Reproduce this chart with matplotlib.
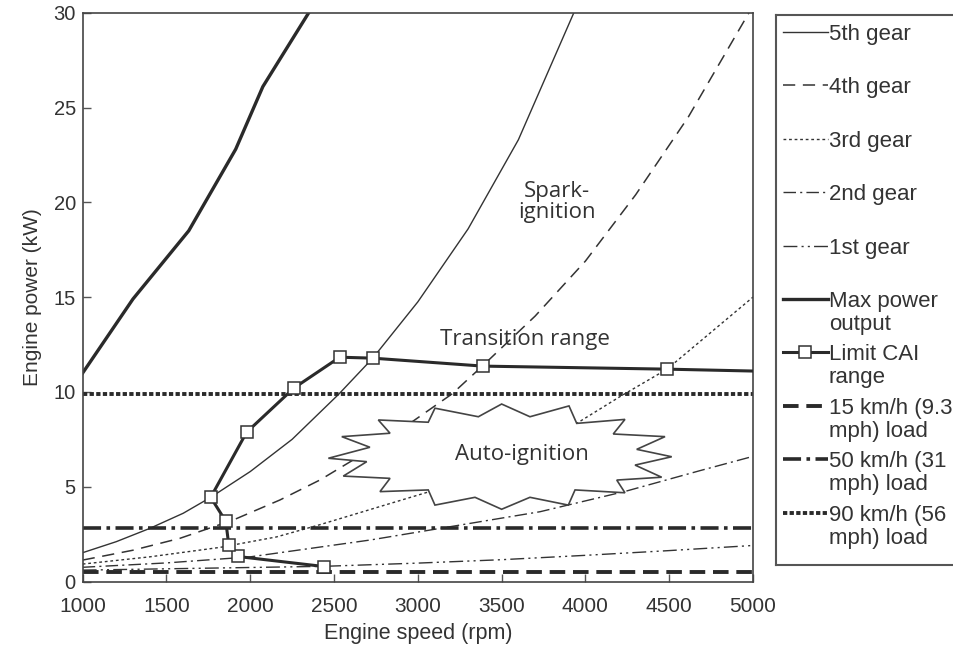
import matplotlib
matplotlib.use("Agg")
import matplotlib.pyplot as plt

# Gear road-load curves (engine speed rpm -> power kW)
rpm_5th = [1000, 1200, 1400, 1600, 1764, 2000, 2250, 2528, 2731, 3000, 3300, 3600, 3931]
kw_5th = [1.52, 2.1, 2.8, 3.6, 4.44, 5.8, 7.5, 9.88, 11.78, 14.75, 18.6, 23.3, 30.0]

rpm_4th = [1000, 1300, 1581, 1900, 2177, 2417, 2800, 3205, 3381, 3700, 4000, 4300, 4614, 4976]
kw_4th = [1.13, 1.65, 2.28, 3.25, 4.3, 5.36, 7.4, 9.9, 11.33, 14.0, 16.9, 20.4, 24.5, 30.0]

rpm_3rd = [1000, 1400, 1820, 2156, 2417, 3073, 3731, 3948, 4206, 4487, 5000]
kw_3rd = [0.92, 1.3, 1.8, 2.35, 3.0, 4.75, 7.29, 8.34, 9.75, 11.2, 15.0]

rpm_2nd = [1000, 1500, 2000, 2717, 3729, 4236, 4685, 5000]
kw_2nd = [0.75, 0.98, 1.3, 2.19, 3.68, 4.75, 5.85, 6.6]

rpm_1st = [1000, 2439, 3000, 3500, 4000, 4500, 5000]
kw_1st = [0.6, 0.8, 0.97, 1.15, 1.38, 1.63, 1.9]

# Full-load curve
rpm_max = [1000, 1300, 1633, 1913, 2075, 2349]
kw_max = [11.0, 14.9, 18.5, 22.8, 26.1, 30.0]

# Boundary of the controlled auto-ignition (CAI) region
rpm_cai = [2439, 1925, 1872, 1854, 1764, 1978, 2260, 2534, 2731, 3388, 4487, 5000]
kw_cai = [0.79, 1.32, 1.9, 3.17, 4.44, 7.87, 10.2, 11.83, 11.78, 11.36, 11.2, 11.1]

# Constant-speed road loads
load_15 = 0.52
load_50 = 2.82
load_90 = 9.88

# Outline of the auto-ignition "burst"
rpm_burst = [3102, 3361, 3500, 3669, 3902, 3948, 4236, 4166, 4475, 4306, 4515,
             4296, 4455, 4187, 4236, 3938, 3898, 3669, 3500, 3341, 3102, 3062,
             2774, 2834, 2555, 2695, 2466, 2714, 2546, 2834, 2764, 3062]
kw_burst = [9.14, 8.69, 9.36, 8.69, 9.26, 8.34, 8.55, 7.78, 7.64, 6.97, 6.58,
            6.14, 5.50, 5.35, 4.68, 4.83, 4.03, 4.44, 3.81, 4.44, 4.03, 4.83,
            4.74, 5.44, 5.56, 6.32, 6.50, 7.08, 7.64, 7.82, 8.52, 8.40]

x_ticks = [1000, 1500, 2000, 2500, 3000, 3500, 4000, 4500, 5000]
y_ticks = [0, 5, 10, 15, 20, 25, 30]

legend_labels = ["5th gear", "4th gear", "3rd gear", "2nd gear", "1st gear",
                 "Max power\noutput", "Limit CAI\nrange",
                 "15 km/h (9.3\nmph) load", "50 km/h (31\nmph) load",
                 "90 km/h (56\nmph) load"]

INK = "#2a2a2a"
TXT = "#333333"

styles = [
    dict(color="#333333", lw=1.0, ls="-"),
    dict(color="#333333", lw=1.1, ls=(0, (8, 5))),
    dict(color="#333333", lw=1.0, ls=(0, (2, 2))),
    dict(color="#333333", lw=1.0, ls=(0, (9, 3, 1.5, 3))),
    dict(color="#333333", lw=1.0, ls=(0, (10, 3, 1.5, 3, 1.5, 3))),
    dict(color=INK, lw=2.4, ls="-"),
    dict(color=INK, lw=2.2, ls="-", marker="s", ms=9, mfc="white",
         mec="#333333", mew=1.1),
    dict(color=INK, lw=2.8, ls=(0, (4, 2))),
    dict(color=INK, lw=2.6, ls=(0, (5, 1.5, 1, 1.5))),
    dict(color=INK, lw=2.8, ls=(0, (1.1, 0.6))),
]

fig = plt.figure(figsize=(9.54, 6.5), dpi=100)
ax = fig.add_axes([82.7 / 954, 68.5 / 650, 670.3 / 954, 568.8 / 650])

ax.plot(rpm_5th, kw_5th, **styles[0])
ax.plot(rpm_4th, kw_4th, **styles[1])
ax.plot(rpm_3rd, kw_3rd, **styles[2])
ax.plot(rpm_2nd, kw_2nd, **styles[3])
ax.plot(rpm_1st, kw_1st, **styles[4])
ax.plot(rpm_max, kw_max, **styles[5])
ax.axhline(load_15, **styles[7])
ax.axhline(load_50, **styles[8])
ax.axhline(load_90, **styles[9])
ax.plot(rpm_cai, kw_cai, markevery=list(range(len(rpm_cai) - 1)), zorder=5,
        **styles[6])

ax.fill(rpm_burst, kw_burst, facecolor="white", edgecolor="#444444",
        lw=1.2, zorder=4)

ann_font = ["Open Sans", "DejaVu Sans"]
ax.text(3621, 6.7, "Auto-ignition", ha="center", va="center", fontsize=16,
        color=TXT, family=ann_font, zorder=6)
ax.text(3640, 12.75, "Transition range", ha="center", va="center",
        fontsize=16, color=TXT, family=ann_font, zorder=6)
ax.text(3830, 20.0, "Spark-\nignition", ha="center", va="center",
        fontsize=16, color=TXT, family=ann_font, linespacing=1.0)

ax.set_xlim(1000, 5000)
ax.set_ylim(0, 30)
ax.set_xticks(x_ticks)
ax.set_yticks(y_ticks)
narrow = ["DejaVu Sans Condensed", "Liberation Sans"]
ax.set_xticklabels([str(v) for v in x_ticks], family=narrow, fontsize=15,
                   color=TXT)
ax.set_yticklabels([str(v) for v in y_ticks], family="Liberation Sans",
                   fontsize=14.5, color=TXT)
ax.tick_params(direction="in", length=6, width=1, color="#555555", pad=5)
ax.tick_params(axis="x", pad=11)
for sp in ax.spines.values():
    sp.set_color("#444444")
    sp.set_linewidth(1.2)
ax.set_xlabel("Engine speed (rpm)", family=narrow, fontsize=15.5, color=TXT,
              labelpad=5)
ax.set_ylabel("Engine power (kW)", family="Liberation Sans", fontsize=15,
              color=TXT, labelpad=8)

# Legend drawn in its own panel, laid out in pixel units
lax = fig.add_axes([776 / 954, 85 / 650, 184 / 954, 550 / 650])
lax.set_xlim(0, 184)
lax.set_ylim(550, 0)
lax.set_xticks([])
lax.set_yticks([])
lax.spines["right"].set_visible(False)
for sp in ("left", "top", "bottom"):
    lax.spines[sp].set_color("#555555")
    lax.spines[sp].set_linewidth(1.5)

row0, step = 17, 53.4
for i, (label, st) in enumerate(zip(legend_labels, styles)):
    y = row0 + i * step
    st = dict(st)
    if "marker" in st:
        lax.plot([7, 52], [y, y], markevery=[], **st)
        lax.plot([29.5], [y], ls="none", marker="s", ms=9, mfc="white",
                 mec="#333333", mew=1.1)
    else:
        lax.plot([7, 52], [y, y], **st)
    for j, line in enumerate(label.split("\n")):
        lax.text(53, y + j * 23, line, ha="left", va="center_baseline",
                 fontsize=16, color=TXT, family="Liberation Sans")

fig.savefig("out.png", dpi=100)
